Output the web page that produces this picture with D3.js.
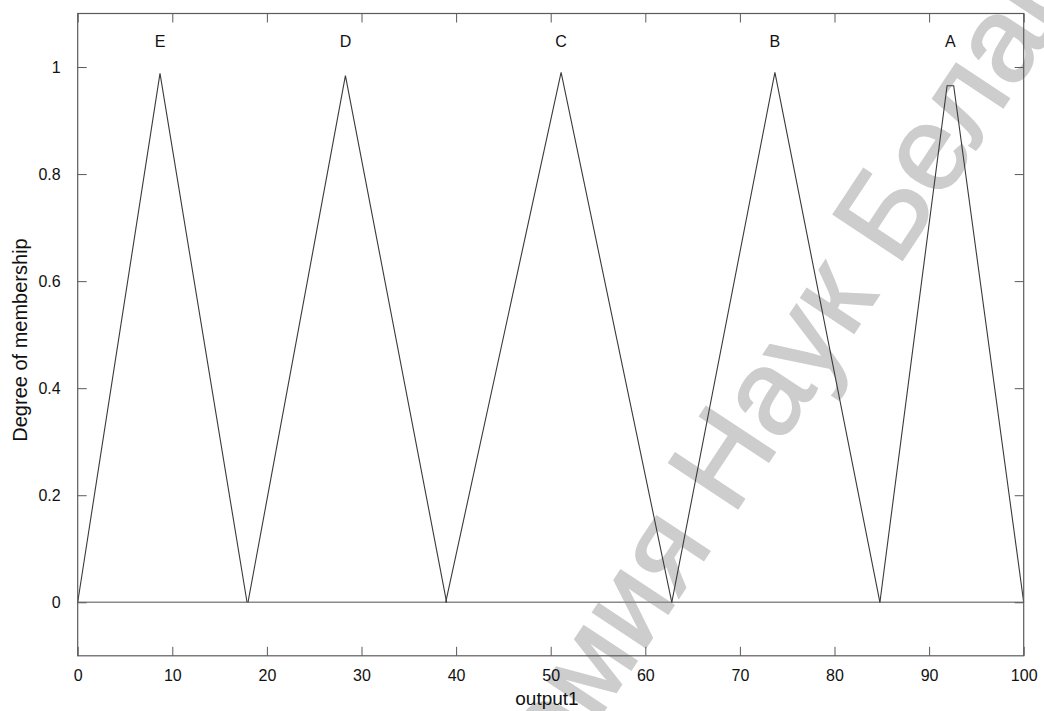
<!DOCTYPE html>
<html><head><meta charset="utf-8">
<script src="https://cdn.jsdelivr.net/npm/d3@7"></script>
<style>body{margin:0;background:#fff}svg{display:block}text{font-family:"Liberation Sans",Arial,sans-serif}</style>
</head><body>
<svg id="c" width="1044" height="711"></svg>
<script>
// membership functions of output1 (x breakpoints and their degrees)
const mfNames = ["E", "D", "C", "B", "A"];
const mfX = [
  [0, 8.7, 17.9],
  [18.0, 28.3, 39.0],
  [38.9, 51.1, 62.8],
  [62.8, 73.7, 84.8],
  [84.8, 91.9, 92.6, 100]
];
const mfY = [
  [0, 0.988, 0],
  [0, 0.984, 0],
  [0, 0.99, 0],
  [0, 0.99, 0],
  [0, 0.965, 0.965, 0]
];
const xTicks = [0, 10, 20, 30, 40, 50, 60, 70, 80, 90, 100];
const yTicks = [0, 0.2, 0.4, 0.6, 0.8, 1];
const xLabel = "output1";
const yLabel = "Degree of membership";
const watermarkBefore = "Академия Наук ";
const watermarkAfter = "Беларуси";

const svg = d3.select("#c");
const L = 77.7, R = 1023.7, T = 13.5, B = 655.8;
const x = d3.scaleLinear().domain([0, 100]).range([L, R]);
const y = d3.scaleLinear().domain([-0.1, 1.1]).range([B, T]);
const axisCol = "#5a5a5a";

// watermark (behind the plot lines)
const wm = svg.append("g").attr("transform", "translate(897,268) rotate(-56.5)")
  .attr("fill", "#cdcdcd").attr("stroke", "#cdcdcd").attr("stroke-width", 2)
  .attr("font-size", 120).style("font-family", '"DejaVu Sans",sans-serif');
wm.append("text").attr("text-anchor", "end").style("white-space", "pre").text(watermarkBefore);
wm.append("text").attr("text-anchor", "start").text(watermarkAfter);

// zero line
svg.append("line").attr("x1", x(0)).attr("x2", x(100)).attr("y1", y(0)).attr("y2", y(0))
  .attr("stroke", "#8a8a8a").attr("stroke-width", 1.6);

// membership lines
const line = d3.line().x(d => x(d[0])).y(d => y(d[1]));
mfX.forEach((xs, i) => {
  const pts = xs.map((v, j) => [v, mfY[i][j]]);
  svg.append("path").attr("d", line(pts)).attr("fill", "none")
    .attr("stroke", "#3a3a3a").attr("stroke-width", 1.1);
  const peakX = d3.mean(xs.filter((v, j) => mfY[i][j] === d3.max(mfY[i])));
  svg.append("text").attr("x", x(peakX)).attr("y", 46.5).attr("text-anchor", "middle")
    .attr("font-size", 16).attr("fill", "#111").text(mfNames[i]);
});

// axes (box with inward ticks)
const tl = 9;
const gB = svg.append("g").attr("transform", `translate(0,${B})`)
  .call(d3.axisBottom(x).tickValues(xTicks).tickSize(-tl).tickPadding(14).tickFormat(d3.format("d")));
const gT = svg.append("g").attr("transform", `translate(0,${T})`)
  .call(d3.axisTop(x).tickValues(xTicks).tickSize(-tl).tickFormat(""));
const gL = svg.append("g").attr("transform", `translate(${L},0)`)
  .call(d3.axisLeft(y).tickValues(yTicks).tickSize(-tl).tickPadding(17).tickFormat(d => d === 0 || d === 1 ? d3.format("d")(d) : d3.format(".1f")(d)));
const gR = svg.append("g").attr("transform", `translate(${R},0)`)
  .call(d3.axisRight(y).tickValues(yTicks).tickSize(-tl).tickFormat(""));
[gB, gT, gL, gR].forEach(g => {
  g.selectAll(".domain").remove();
  g.selectAll("line").attr("stroke", axisCol);
  g.selectAll("text").attr("font-size", 16).attr("fill", "#111")
    .attr("font-family", '"Liberation Sans",Arial,sans-serif');
});
svg.append("rect").attr("x", L).attr("y", T).attr("width", R - L).attr("height", B - T)
  .attr("fill", "none").attr("stroke", axisCol).attr("stroke-width", 1.2);

// axis labels
svg.append("text").attr("x", 547).attr("y", 705).attr("text-anchor", "middle")
  .attr("font-size", 19).attr("fill", "#111").text(xLabel);
svg.append("text").attr("transform", "translate(27,340) rotate(-90)").attr("text-anchor", "middle")
  .attr("font-size", 20).attr("fill", "#111").text(yLabel);
</script>
</body></html>
